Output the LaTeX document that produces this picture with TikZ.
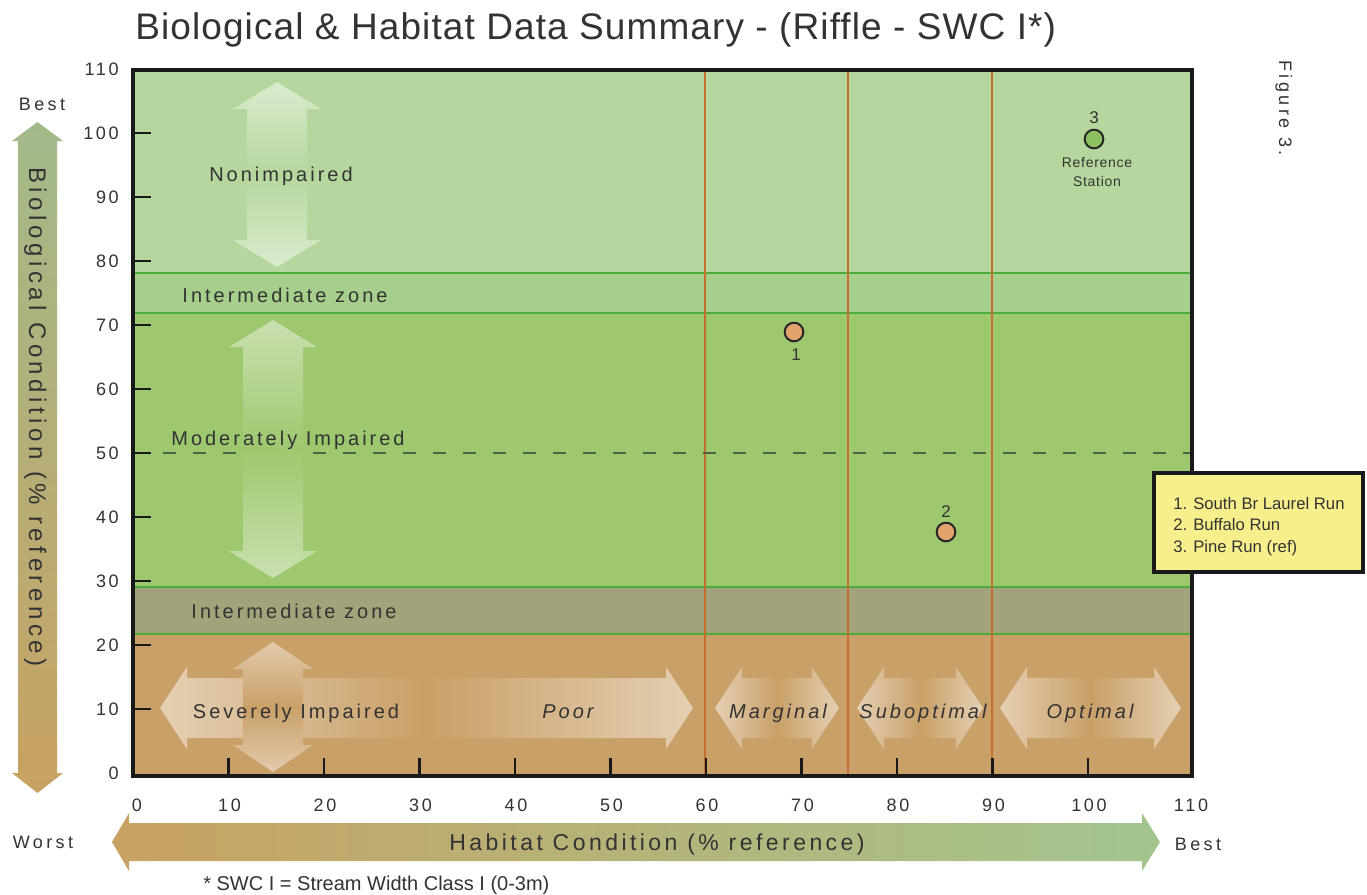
\documentclass[tikz,border=0pt]{standalone}
\usepackage{fontspec}
\setmainfont{Liberation Sans}
\newfontfamily\ttlfont[LetterSpace=3]{Liberation Sans}
\newfontfamily\trkfont[LetterSpace=15]{Liberation Sans}
\newfontfamily\trkbfont[LetterSpace=19]{Liberation Sans}
\newfontfamily\smfont[LetterSpace=5]{Liberation Sans}
\newcommand\pxs[1]{\fontsize{\fpeval{0.75*#1}pt}{\fpeval{0.9*#1}pt}\selectfont}
\definecolor{nonimp}{HTML}{B5D79D}
\definecolor{interA}{HTML}{A6CF8C}
\definecolor{modimp}{HTML}{9EC86E}
\definecolor{interB}{HTML}{A3A37B}
\definecolor{sevimp}{HTML}{C9A067}
\definecolor{gline}{HTML}{4CAD3A}
\definecolor{oline}{HTML}{C46F2E}
\definecolor{legy}{HTML}{F6EF8C}
\definecolor{txt}{HTML}{333333}
\definecolor{ptorange}{HTML}{E3A46C}
\definecolor{ptgreen}{HTML}{8DC05E}
\definecolor{dashc}{HTML}{4E6244}
\definecolor{arrtan}{HTML}{C8A263}
\definecolor{arrmid}{HTML}{B5A070}
\definecolor{arrgrn}{HTML}{A2BA8A}
\definecolor{harrgrn}{HTML}{A2C58E}
\definecolor{harrmid}{HTML}{B8AC76}
% vertical double arrow: x, top tip, bottom tip, head half width, band, light
\newcommand\vdarrow[6]{%
  \pgfmathsetmacro\ymid{(#2+#3)/2}%
  \shade[top color=#6, bottom color=#5]
    (#1,#2) -- ({#1+#4},{#2+27}) -- ({#1+30},{#2+27}) -- ({#1+30},\ymid)
    -- ({#1-30},\ymid) -- ({#1-30},{#2+27}) -- ({#1-#4},{#2+27}) -- cycle;
  \shade[top color=#5, bottom color=#6]
    (#1,#3) -- ({#1+#4},{#3-27}) -- ({#1+30},{#3-27}) -- ({#1+30},\ymid)
    -- ({#1-30},\ymid) -- ({#1-30},{#3-27}) -- ({#1-#4},{#3-27}) -- cycle;
}
% horizontal double arrow: left tip, right tip, y centre, band, light
\newcommand\hdarrow[5]{%
  \pgfmathsetmacro\xmid{(#1+#2)/2}%
  \shade[left color=#5, right color=#4]
    (#1,#3) -- ({#1+27},{#3-41}) -- ({#1+27},{#3-30}) -- (\xmid,{#3-30})
    -- (\xmid,{#3+30}) -- ({#1+27},{#3+30}) -- ({#1+27},{#3+41}) -- cycle;
  \shade[left color=#4, right color=#5]
    (#2,#3) -- ({#2-27},{#3-41}) -- ({#2-27},{#3-30}) -- (\xmid,{#3-30})
    -- (\xmid,{#3+30}) -- ({#2-27},{#3+30}) -- ({#2-27},{#3+41}) -- cycle;
}
\begin{document}
\begin{tikzpicture}[x=0.75pt,y=-0.75pt,
  lbl/.style={font=\trkfont\pxs{20}, text=txt, inner sep=0pt, anchor=base},
  ilbl/.style={font=\trkfont\itshape\pxs{20}, text=txt, inner sep=0pt, anchor=base},
  ticklbl/.style={font=\trkfont\pxs{18}, text=txt, inner sep=0pt, anchor=base},
  endlbl/.style={font=\trkbfont\pxs{18}, text=txt, inner sep=0pt, anchor=base},
  leglbl/.style={font=\pxs{16.7}, text=txt, inner sep=0pt, anchor=base west},
  ptlbl/.style={font=\pxs{17}, text=txt, inner sep=0pt, anchor=base},
  reflbl/.style={font=\smfont\pxs{14}, text=txt, inner sep=0pt, anchor=base},
  gridline/.style={gline, line width=1.6pt},
  catline/.style={oline, line width=1.2pt},
  tickmark/.style={black!90, line width=1.9pt},
  datapt/.style={circle, draw=black!85, line width=1.5pt, minimum size=14pt, inner sep=0pt}
]
\useasboundingbox (0,0) rectangle (1367,894);
\fill[white] (0,0) rectangle (1367,894);

% title
\node[font=\ttlfont\pxs{37}, text=black!80, inner sep=0pt, anchor=base west] (title) at (135,39)
  {Biological \& Habitat Data Summary - (Riffle - SWC I*)};

% bands
\fill[nonimp] (133,70) rectangle (1192,273);
\fill[interA] (133,273) rectangle (1192,313);
\fill[modimp] (133,313) rectangle (1192,587);
\fill[interB] (133,587) rectangle (1192,634);
\fill[sevimp] (133,634) rectangle (1192,776);

% faded category arrows
\vdarrow{277}{82}{267}{44}{nonimp}{white!50!nonimp}
\vdarrow{273}{320}{578}{44}{modimp}{white!45!modimp}
\hdarrow{160}{693}{708}{sevimp}{white!50!sevimp}
\hdarrow{715}{839}{708}{sevimp}{white!50!sevimp}
\hdarrow{857}{983}{708}{sevimp}{white!50!sevimp}
\hdarrow{1000}{1181}{708}{sevimp}{white!50!sevimp}
\vdarrow{273}{642}{772}{40}{sevimp}{white!45!sevimp}

% band borders
\draw[gridline] (133,273) -- (1192,273);
\draw[gridline] (133,313) -- (1192,313);
\draw[gridline] (133,587) -- (1192,587);
\draw[gridline] (133,634) -- (1192,634);

% category separators
\foreach \xx in {705,848,992} \draw[catline] (\xx,71) -- (\xx,775);

% dashed 50% line
\draw[dashc, line width=1.2pt, dash pattern=on 9.5pt off 13pt] (133,453) -- (236,453);
\draw[dashc, line width=1.2pt, dash pattern=on 9.5pt off 13pt] (313,453) -- (1190,453);

% frame
\draw[black!90, line width=3pt] (133,70) rectangle (1192,776);

% ticks
\foreach \v in {10,20,...,100} {
  \draw[tickmark] (133,{773-6.4*\v}) -- (151,{773-6.4*\v});
  \draw[tickmark] ({133+9.55*\v},776) -- ({133+9.55*\v},758);
}

% y tick labels
\foreach \v in {0,10,...,110}
  \node[ticklbl, anchor=base east] (yl\v) at (119,{773-6.4*\v+6.5}) {\v};
% x tick labels
\node[ticklbl] (xl0) at (137,811) {0};
\foreach \v in {10,20,...,100}
  \node[ticklbl] (xl\v) at ({133+9.55*\v+1},811) {\v};
\node[ticklbl] (xl110) at (1191,811) {110};

% zone labels
\node[lbl] (nonimp) at (281,181) {Nonimpaired};
\node[lbl] (intA) at (285,302) {Intermediate zone};
\node[lbl] (modimp) at (288,445) {Moderately Impaired};
\node[lbl] (intB) at (294,618) {Intermediate zone};
\node[lbl] (sevimp) at (296,718) {Severely Impaired};
\node[ilbl] (poor) at (568,718) {Poor};
\node[ilbl] (marg) at (778,718) {Marginal};
\node[ilbl] (subopt) at (923,718) {Suboptimal};
\node[ilbl] (opt) at (1090,718) {Optimal};

% data points
\node[datapt, fill=ptorange] (p1) at (794,332) {};
\node[ptlbl] (p1l) at (796,360) {1};
\node[datapt, fill=ptorange] (p2) at (946,532) {};
\node[ptlbl] (p2l) at (946,517) {2};
\node[datapt, fill=ptgreen] (p3) at (1094,139) {};
\node[ptlbl] (p3l) at (1094,123) {3};
\node[reflbl] (ref1) at (1097,167) {Reference};
\node[reflbl] (ref2) at (1097,186) {Station};

% legend
\draw[black!90, line width=2.6pt, fill=legy] (1154,473) rectangle (1363,572);
\node[leglbl] (lg1n) at (1173,509) {1.};
\node[leglbl] (lg1) at (1193,509) {South Br Laurel Run};
\node[leglbl] (lg2n) at (1173,530) {2.};
\node[leglbl] (lg2) at (1193,530) {Buffalo Run};
\node[leglbl] (lg3n) at (1173,552) {3.};
\node[leglbl] (lg3) at (1193,552) {Pine Run (ref)};

% figure caption
\node[endlbl, rotate=-90] (fig) at (1279,108) {Figure 3.};

% left axis arrow
\shade[top color=arrgrn, middle color=arrmid, bottom color=arrtan]
  (37.5,122) -- (63,141) -- (57,141) -- (57,773) -- (63,773) -- (37.5,793)
  -- (12,773) -- (18,773) -- (18,141) -- (12,141) -- cycle;
\node[font=\trkbfont\pxs{24}, text=txt, inner sep=0pt, anchor=base, rotate=-90] (ytitle)
  at (29,417) {Biological Condition (\% reference)};
\node[endlbl] (best1) at (42,110) {Best};

% bottom axis arrow
\shade[left color=arrtan, middle color=harrmid, right color=harrgrn]
  (112,842) -- (129,813) -- (129,823) -- (1142,823) -- (1142,813) -- (1160,842)
  -- (1142,871) -- (1142,861) -- (129,861) -- (129,871) -- cycle;
\node[font=\trkfont\pxs{23}, text=txt, inner sep=0pt, anchor=base] (xtitle)
  at (657,850) {Habitat Condition (\% reference)};
\node[endlbl] (worst) at (43,848) {Worst};
\node[endlbl] (best2) at (1198,850) {Best};

% footnote
\node[font=\pxs{20}, text=txt, inner sep=0pt, anchor=base west] (foot) at (203,890)
  {* SWC I = Stream Width Class I (0-3m)};
\end{tikzpicture}
\end{document}
